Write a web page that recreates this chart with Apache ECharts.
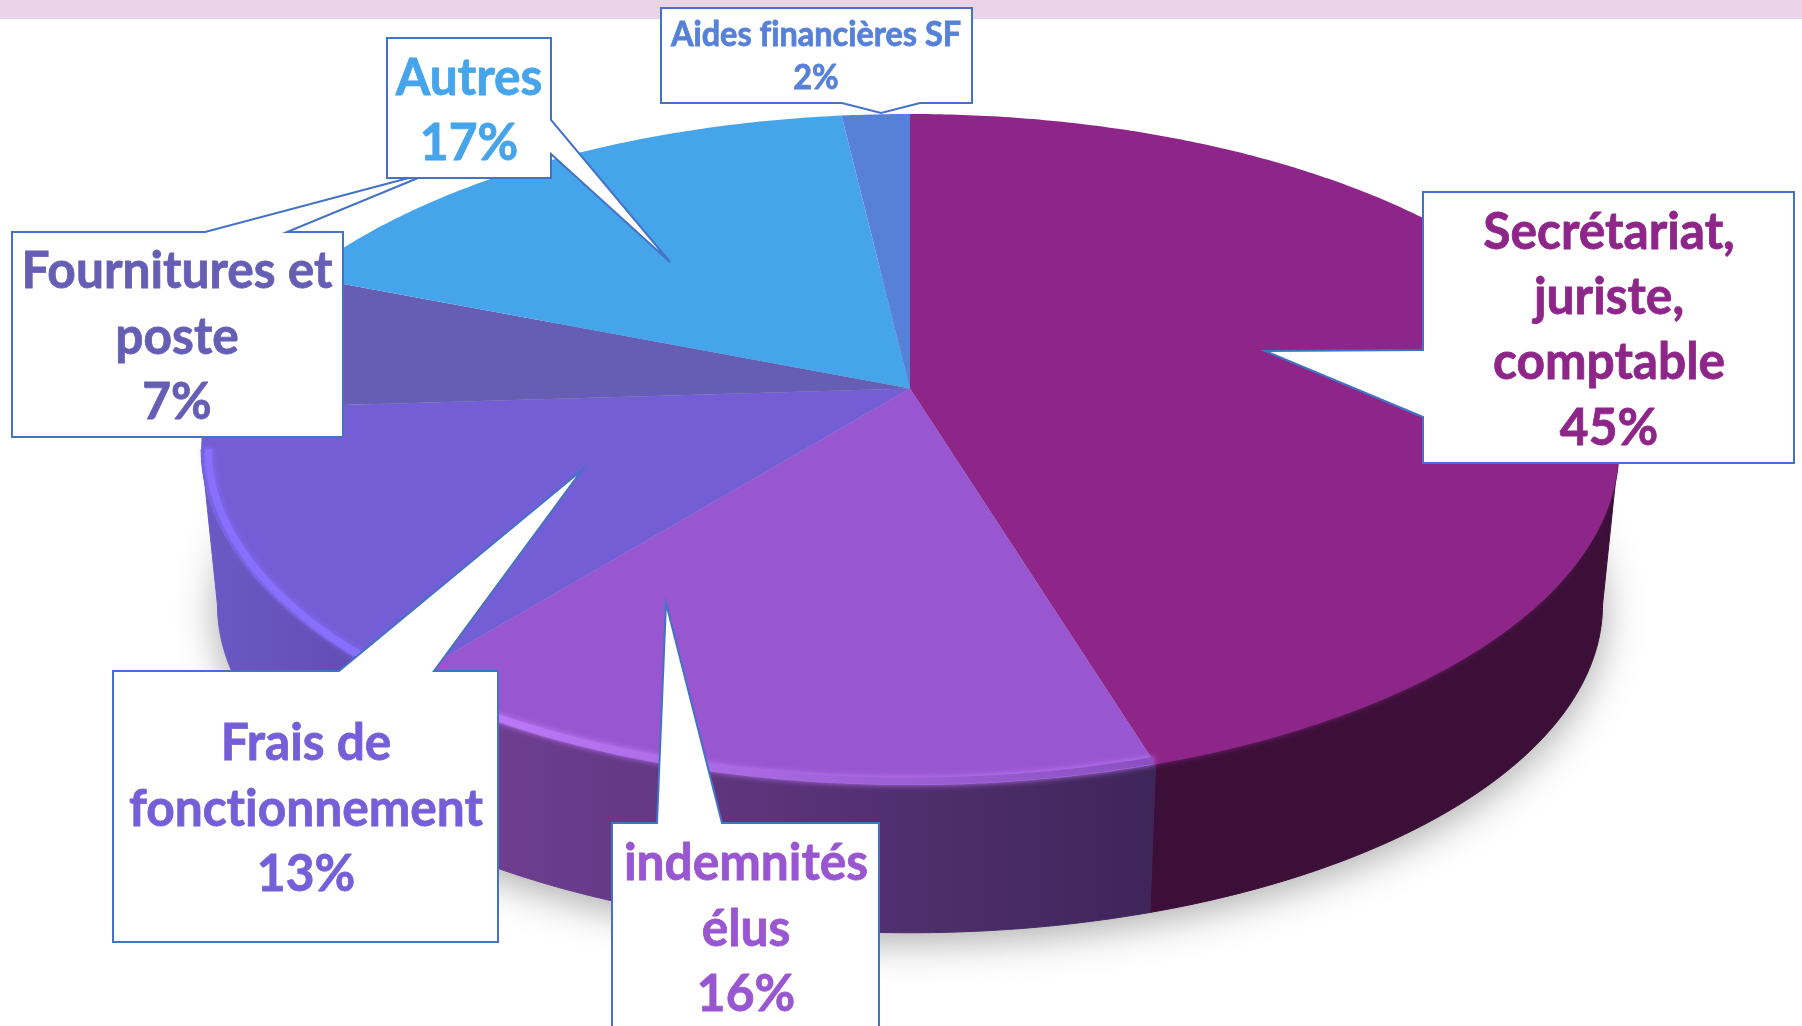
<!DOCTYPE html>
<html>
<head>
<meta charset="utf-8">
<style>
  html, body { margin: 0; padding: 0; background: #fff; }
  #chart { width: 1802px; height: 1026px; }
</style>
<script src="https://cdn.jsdelivr.net/npm/echarts@6/dist/echarts.min.js"></script>
</head>
<body>
<div id="chart"></div>
<script>
// data
const categories = ["Secrétariat,\njuriste,\ncomptable", "indemnités\nélus", "Frais de\nfonctionnement", "Fournitures et\nposte", "Autres", "Aides financières SF"];
const values = [45.3, 15.5, 13.2, 7, 17.15, 1.85];

// styles of each slice, same order as categories
const faceColors = ["#8e2689", "#9856d0", "#745ed6", "#665eb4", "#45a4ea", "#5781d8"];
const textColors = ["#8e2689", "#9856d0", "#745fd8", "#665eb4", "#45a4ea", "#5781d8"];
const wallColors = [["#3c0f39", "#3c0f39"], ["#764199", "#3e2559"], ["#6b5ac5", "#5f4aae"], null, null, null];
const rimColors = [["#8e2689", "#8e2689"], ["#c27dff", "#8a50c0"], ["#8870ff", "#8870ff"], null, null, null];

// callout boxes: box [x0, y0, x1, y1], tail points, text centre, font size
const callouts = [
	{ box: [1423, 192, 1794, 463], side: "left", tail: [[1423, 350], [1265, 351], [1423, 417]], x: 1609, y: 330, size: 52 },
	{ box: [612, 823, 879, 1032], side: "top", tail: [[657, 823], [666, 603], [722, 823]], x: 746, y: 929, size: 52 },
	{ box: [113, 671, 498, 942], side: "top", tail: [[339, 671], [582, 470], [434, 671]], x: 306, y: 809, size: 52 },
	{ box: [12, 232, 343, 437], side: "top", tail: [[205, 232], [435, 171], [287, 232]], x: 177, y: 337, size: 52 },
	{ box: [387, 38, 551, 178], side: "right", tail: [[551, 120], [670, 262], [551, 154]], x: 469, y: 111, size: 52 },
	{ box: [661, 8, 972, 103], side: "bottom", tail: [[842, 103], [881, 113], [920, 103]], x: 816, y: 57, size: 34 },
];

// perspective of the disc
const cx = 910, cy = 388.5, rx = 697, ry = 324.4, k = 0.1818;
const baseScale = 0.977, baseCy = 545.4;
const total = values.reduce((a, b) => a + b, 0);
const edgeAngle = Math.acos(-k); // angle where the silhouette is widest

function project(theta, s, oy) {
	const u = Math.sin(theta), v = -Math.cos(theta);
	const d = 1 - k * v;
	return [cx + (s * rx * u) / d, oy + (s * ry * v) / d];
}

function arc(a0, a1, s, oy) {
	const pts = [];
	const n = Math.max(2, Math.ceil(Math.abs(a1 - a0) / 0.01));
	for (let i = 0; i <= n; i++) pts.push(project(a0 + ((a1 - a0) * i) / n, s, oy));
	return pts;
}

function range(i) {
	let before = 0;
	for (let j = 0; j < i; j++) before += values[j];
	return [(before / total) * Math.PI * 2, ((before + values[i]) / total) * Math.PI * 2];
}

const seriesData = values.map((v, i) => ({ value: [i, v], name: categories[i] }));

const option = {
	animation: false,
	backgroundColor: "#fff",
	tooltip: { show: false },
	graphic: [
		{ type: "rect", z: 0, shape: { x: 0, y: 0, width: 1802, height: 19 }, style: { fill: "#e9d4e9" } },
	],
	series: [
		// soft shadow under the disc
		{
			type: "custom",
			coordinateSystem: "none",
			z: 1,
			silent: true,
			data: [0],
			renderItem() {
				return {
					type: "polygon",
					shape: { points: arc(0, Math.PI * 2, baseScale, baseCy) },
					style: { fill: "#bbb", shadowBlur: 40, shadowColor: "rgba(0,0,0,.34)", shadowOffsetY: 8 },
				};
			},
		},
		// side wall
		{
			type: "custom",
			coordinateSystem: "none",
			z: 2,
			silent: true,
			data: seriesData,
			renderItem(params, api) {
				const i = api.value(0);
				const r = range(i);
				const a0 = Math.max(r[0], edgeAngle);
				const a1 = Math.min(r[1], Math.PI * 2 - edgeAngle);
				if (a1 <= a0 || !wallColors[i]) return null;
				const top = arc(a0, a1, 1, cy);
				const bottom = arc(a0, a1, baseScale, baseCy).reverse();
				const xs = top.map((p) => p[0]);
				const fill = new echarts.graphic.LinearGradient(Math.min(...xs), 0, Math.max(...xs), 0, [
					{ offset: 0, color: wallColors[i][0] },
					{ offset: 1, color: wallColors[i][1] },
				], true);
				return {
					type: "polygon",
					shape: { points: top.concat(bottom) },
					style: { fill: fill, stroke: fill, lineWidth: 1 },
				};
			},
		},
		// top face
		{
			type: "custom",
			coordinateSystem: "none",
			z: 3,
			silent: true,
			data: seriesData,
			renderItem(params, api) {
				const i = api.value(0);
				const r = range(i);
				return {
					type: "polygon",
					shape: { points: [[cx, cy]].concat(arc(r[0], r[1], 1, cy)) },
					style: { fill: faceColors[i] },
				};
			},
		},
		// light edge of the bevel
		{
			type: "custom",
			coordinateSystem: "none",
			z: 4,
			silent: true,
			data: seriesData,
			renderItem(params, api) {
				const i = api.value(0);
				const r = range(i);
				const a0 = Math.max(r[0], edgeAngle);
				const a1 = Math.min(r[1], Math.PI * 2 - edgeAngle);
				if (a1 <= a0 || !rimColors[i]) return null;
				const pts = arc(a0, a1, 0.99, cy);
				const xs = pts.map((p) => p[0]);
				const stroke = new echarts.graphic.LinearGradient(Math.min(...xs), 0, Math.max(...xs), 0, [
					{ offset: 0, color: rimColors[i][0] },
					{ offset: 1, color: rimColors[i][1] },
				], true);
				return {
					type: "polyline",
					shape: { points: pts },
					style: { fill: null, stroke: stroke, lineWidth: 7, shadowBlur: 6, shadowColor: rimColors[i][0] },
				};
			},
		},
		// callouts
		{
			type: "custom",
			coordinateSystem: "none",
			z: 5,
			silent: true,
			data: seriesData,
			renderItem(params, api) {
				const i = api.value(0);
				const c = callouts[i];
				const [x0, y0, x1, y1] = c.box;
				let pts;
				if (c.side === "left") pts = [[x0, y0], [x1, y0], [x1, y1], [x0, y1], ...c.tail.slice().reverse()];
				if (c.side === "top") pts = [[x0, y0], ...c.tail, [x1, y0], [x1, y1], [x0, y1]];
				if (c.side === "right") pts = [[x0, y0], [x1, y0], ...c.tail, [x1, y1], [x0, y1]];
				if (c.side === "bottom") pts = [[x0, y0], [x1, y0], [x1, y1], ...c.tail.slice().reverse(), [x0, y1]];
				return {
					type: "group",
					children: [
						{
							type: "polygon",
							shape: { points: pts },
							style: { fill: "#fff", stroke: "#4472c4", lineWidth: 2, lineJoin: "miter" },
						},
						{
							type: "text",
							scaleX: 0.955,
							originX: c.x,
							style: {
								x: c.x,
								y: c.y,
								text: categories[i] + "\n" + Math.round(api.value(1)) + "%",
								fill: textColors[i],
								stroke: textColors[i],
								lineWidth: 0.8,
								fontFamily: "Lato",
								fontWeight: "bold",
								fontSize: c.size,
								lineHeight: c.size === 34 ? 43 : 65.3,
								align: "center",
								verticalAlign: "middle",
							},
						},
					],
				};
			},
		},
	],
};

const myChart = echarts.init(document.getElementById("chart"));
myChart.setOption(option);
// no ligatures in the labels, so paint once more
myChart.getDom().querySelectorAll("canvas").forEach((c) => { c.getContext("2d").textRendering = "optimizeSpeed"; });
myChart.getZr().painter.refresh(true);
</script>
</body>
</html>
